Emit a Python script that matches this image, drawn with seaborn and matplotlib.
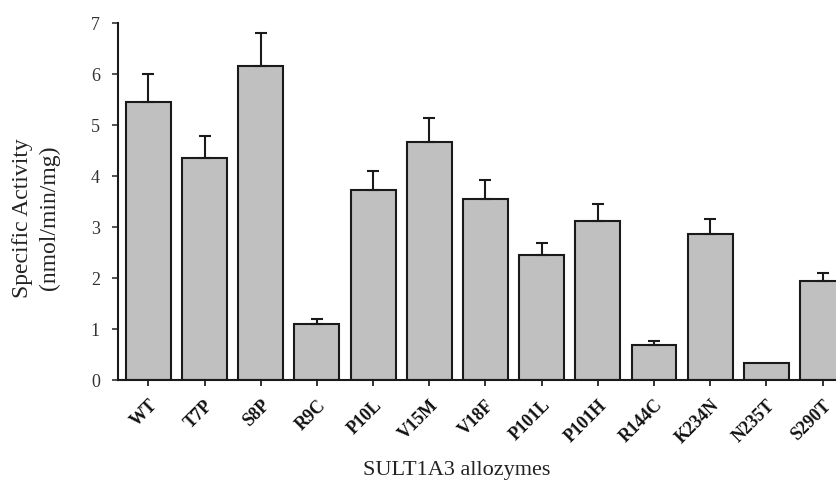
import matplotlib
matplotlib.use("Agg")
import matplotlib.pyplot as plt
import pandas as pd
import seaborn as sns

allozymes = ["WT", "T7P", "S8P", "R9C", "P10L", "V15M", "V18F",
             "P101L", "P101H", "R144C", "K234N", "N235T", "S290T"]
activity = [5.46, 4.35, 6.16, 1.11, 3.72, 4.66, 3.56, 2.45, 3.13, 0.68, 2.86, 0.33, 1.94]
sem = [0.54, 0.43, 0.64, 0.08, 0.39, 0.48, 0.36, 0.24, 0.32, 0.08, 0.30, 0.0, 0.16]

df = pd.DataFrame({"allozyme": allozymes, "activity": activity, "sem": sem})

sns.set_style("ticks")
plt.rcParams["font.family"] = ["Liberation Serif", "DejaVu Serif"]

fig = plt.figure(figsize=(8.37, 4.93), dpi=100)
ax = fig.add_axes([0.141, 0.229, 0.878, 0.724])

sns.barplot(data=df, x="allozyme", y="activity", order=allozymes,
            color="#c0c0c0", edgecolor="#1a1a1a", linewidth=1.5,
            width=0.8, saturation=1, errorbar=None, ax=ax)

# upper half of the error bars only
has_err = df["sem"] > 0
ax.errorbar(df.index[has_err], df["activity"][has_err],
            yerr=[[0] * int(has_err.sum()), df["sem"][has_err]],
            fmt="none", ecolor="#1a1a1a", elinewidth=1.5, capsize=4, capthick=1.5)

ax.set_xlim(-0.54, 12.54)
ax.set_ylim(0, 7)
ax.set_yticks(range(8))
ax.tick_params(axis="y", labelsize=13, length=4, width=1.2, pad=9, colors="#333333")
ax.tick_params(axis="x", labelsize=13, length=4, width=1.2, pad=8, colors="#111111")
for lbl in ax.get_xticklabels():
    lbl.set_rotation(45)
    lbl.set_ha("right")
    lbl.set_rotation_mode("anchor")
    lbl.set_fontweight("bold")

ax.set_xlabel("SULT1A3 allozymes", fontsize=16, color="#222222")
ax.xaxis.label.set_va("center")
ax.xaxis.set_label_coords(0.461, -0.252)
ax.set_ylabel("Specific Activity\n(nmol/min/mg)", fontsize=17, color="#222222",
              linespacing=1.35)
ax.yaxis.label.set_va("center")
ax.yaxis.label.set_ha("center")
ax.yaxis.set_label_coords(-0.112, 0.454)
for side in ["top", "right"]:
    ax.spines[side].set_visible(False)
for side in ["left", "bottom"]:
    ax.spines[side].set_linewidth(1.5)
    ax.spines[side].set_color("#1a1a1a")

fig.savefig("out.png", dpi=100)
